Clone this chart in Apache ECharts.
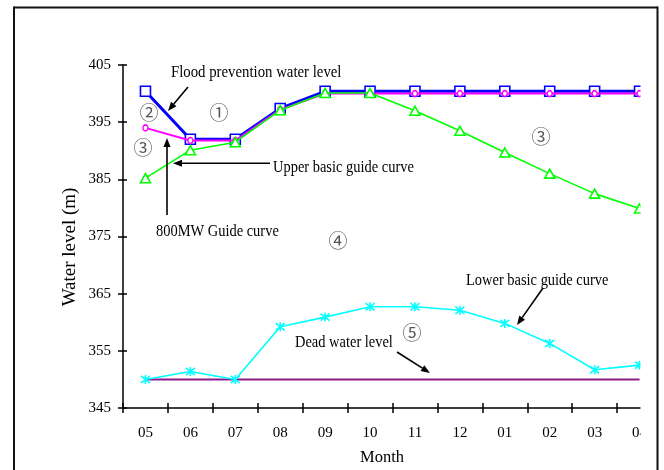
<!DOCTYPE html>
<html>
<head>
<meta charset="utf-8">
<script src="https://cdn.jsdelivr.net/npm/echarts@6/dist/echarts.min.js"></script>
<style>
html,body{margin:0;padding:0;background:#fff;}
#chart{width:664px;height:470px;}
</style>
</head>
<body>
<div id="chart"></div>
<script>
const months = ['05','06','07','08','09','10','11','12','01','02','03','04'];
const floodLevel = [400.4, 392.0, 392.0, 397.4, 400.4, 400.4, 400.4, 400.4, 400.4, 400.4, 400.4, 400.4];
const guide800MW = [394.0, 391.8, 391.8, 397.2, 400.0, 400.0, 400.0, 400.0, 400.0, 400.0, 400.0, 400.0];
const upperBasic = [385.2, 390.1, 391.5, 397.1, 400.1, 400.1, 397.0, 393.5, 389.7, 386.0, 382.5, 379.9];
const lowerBasic = [350.0, 351.4, 350.0, 359.2, 360.9, 362.7, 362.7, 362.1, 359.8, 356.3, 351.7, 352.5];
const deadLevel  = [350, 350, 350, 350, 350, 350, 350, 350, 350, 350, 350, 350];
const yTicks = {min: 345, max: 405, interval: 10};

const SERIF = '"Liberation Serif", "Times New Roman", serif';
const chart = echarts.init(document.getElementById('chart'));

function arrow(x1, y1, x2, y2) {
  const a = Math.atan2(y2 - y1, x2 - x1);
  const L = 9, W = 3.5;
  const bx = x2 - L * Math.cos(a), by = y2 - L * Math.sin(a);
  const p1 = [bx + W * Math.sin(a), by - W * Math.cos(a)];
  const p2 = [bx - W * Math.sin(a), by + W * Math.cos(a)];
  return [
    {type: 'line', zlevel: 1, shape: {x1: x1, y1: y1, x2: bx, y2: by}, style: {stroke: '#000', lineWidth: 1.6}},
    {type: 'polygon', zlevel: 1, shape: {points: [[x2, y2], p1, p2]}, style: {fill: '#000'}}
  ];
}
function txt(t, x, y, opts, el) {
  return Object.assign({type: 'text', zlevel: 1, x: x, y: y, scaleX: 0.85,
    style: Object.assign({
      text: t, x: 0, y: 0, fill: '#000', fontSize: 17, fontFamily: SERIF,
      textAlign: 'left', textVerticalAlign: 'middle', align: 'left', verticalAlign: 'middle'
    }, opts || {})}, el || {});
}
function circ(t, x, y) {
  return txt(t, x, y, {fontSize: 19, fontFamily: '"Noto Sans CJK JP", "DejaVu Sans", sans-serif', fill: '#555',
    textAlign: 'center', align: 'center'}, {scaleX: 1});
}

const asterisk = 'path://M5,0L5,10M1,1L9,9M1,9L9,1';

const graphics = [
  // white panel clipping the plot at the last month
  {type: 'rect', zlevel: 1, shape: {x: 640.5, y: 0, width: 24, height: 470}, style: {fill: '#fff'}},
  // frame
  {type: 'line', zlevel: 1, shape: {x1: 14, y1: 7.5, x2: 657.5, y2: 7.5}, style: {stroke: '#111', lineWidth: 2}},
  {type: 'line', zlevel: 1, shape: {x1: 14, y1: 6.5, x2: 14, y2: 470}, style: {stroke: '#111', lineWidth: 2}},
  {type: 'line', zlevel: 1, shape: {x1: 657.5, y1: 6.5, x2: 657.5, y2: 470}, style: {stroke: '#111', lineWidth: 2}},
  txt('Water level (m)', 70, 247, {textAlign: 'center', align: 'center', fontSize: 19}, {rotation: Math.PI / 2, scaleX: 1}),
  txt('Month', 382, 458, {textAlign: 'center', align: 'center', fontSize: 16.5}, {scaleX: 1}),
  txt('Flood prevention water level', 171, 73, {}, {scaleX: 0.87}),
  txt('Upper basic guide curve', 273, 168),
  txt('800MW Guide curve', 156, 232),
  txt('Lower basic guide curve', 466, 281),
  txt('Dead water level', 295, 343),
  circ('②', 149, 113),
  circ('①', 219, 113),
  circ('③', 143, 148),
  circ('③', 541, 137),
  circ('④', 338, 241),
  circ('⑤', 412, 333)
].concat(
  arrow(188, 87, 168, 111),
  arrow(270, 163.3, 173, 163.3),
  arrow(167, 215, 167, 138),
  arrow(543, 288, 517, 325),
  arrow(397, 352, 430, 373)
);

const axisLineStyle = {color: '#000', width: 1.5};

const option = {
  animation: false,
  backgroundColor: '#fff',
  grid: {left: 123, top: 65, width: 539, height: 343, containLabel: false},
  xAxis: [
    {type: 'category', data: months, boundaryGap: true, position: 'bottom',
      axisLine: {show: true, lineStyle: axisLineStyle},
      axisTick: {show: true, inside: false, length: 5, lineStyle: {color: '#000', width: 1.5}},
      axisLabel: {color: '#000', fontSize: 15, fontFamily: SERIF, margin: 18, interval: 0},
      splitLine: {show: false}},
    {type: 'category', data: months, boundaryGap: true, position: 'bottom',
      axisLine: {show: false},
      axisTick: {show: true, inside: true, length: 5, lineStyle: {color: '#000', width: 1.5}},
      axisLabel: {show: false}, splitLine: {show: false}}
  ],
  yAxis: [
    {type: 'value', min: yTicks.min, max: yTicks.max, interval: yTicks.interval, position: 'left',
      axisLine: {show: true, lineStyle: axisLineStyle},
      axisTick: {show: true, inside: false, length: 5, lineStyle: {color: '#000', width: 1.5}},
      axisLabel: {color: '#000', fontSize: 15, fontFamily: SERIF, margin: 12},
      splitLine: {show: false}},
    {type: 'value', min: yTicks.min, max: yTicks.max, interval: yTicks.interval, position: 'left',
      axisLine: {show: false},
      axisTick: {show: true, inside: true, length: 4, lineStyle: {color: '#000', width: 1.5}},
      axisLabel: {show: false}, splitLine: {show: false}}
  ],
  series: [
    {name: 'Dead water level', type: 'line', data: deadLevel, symbol: 'none',
      lineStyle: {color: '#8b1a8b', width: 2}, z: 2},
    {name: 'Lower basic guide curve', type: 'line', data: lowerBasic, symbol: asterisk, symbolSize: 9,
      showAllSymbol: true,
      lineStyle: {color: '#00ffff', width: 1.6},
      itemStyle: {color: 'rgba(0,0,0,0)', borderColor: '#00ffff', borderWidth: 1.6}, z: 3},
    {name: 'Flood prevention water level', type: 'line', data: floodLevel, symbol: 'rect', symbolSize: 10,
      showAllSymbol: true,
      lineStyle: {color: '#0000ff', width: 3},
      itemStyle: {color: '#ffffff', borderColor: '#0000ff', borderWidth: 1.6}, z: 4},
    {name: '800MW Guide curve', type: 'line', data: guide800MW, symbol: 'circle', symbolSize: [5, 6],
      showAllSymbol: true,
      lineStyle: {color: '#ff00ff', width: 2},
      itemStyle: {color: '#ffffff', borderColor: '#ff00ff', borderWidth: 1.5}, z: 5},
    {name: 'Upper basic guide curve', type: 'line', data: upperBasic, symbol: 'triangle', symbolSize: [10, 9],
      showAllSymbol: true,
      lineStyle: {color: '#00ff00', width: 1.6},
      itemStyle: {color: '#ffffff', borderColor: '#00ff00', borderWidth: 1.6}, z: 6}
  ],
  graphic: {elements: graphics}
};
chart.setOption(option);
</script>
</body>
</html>
